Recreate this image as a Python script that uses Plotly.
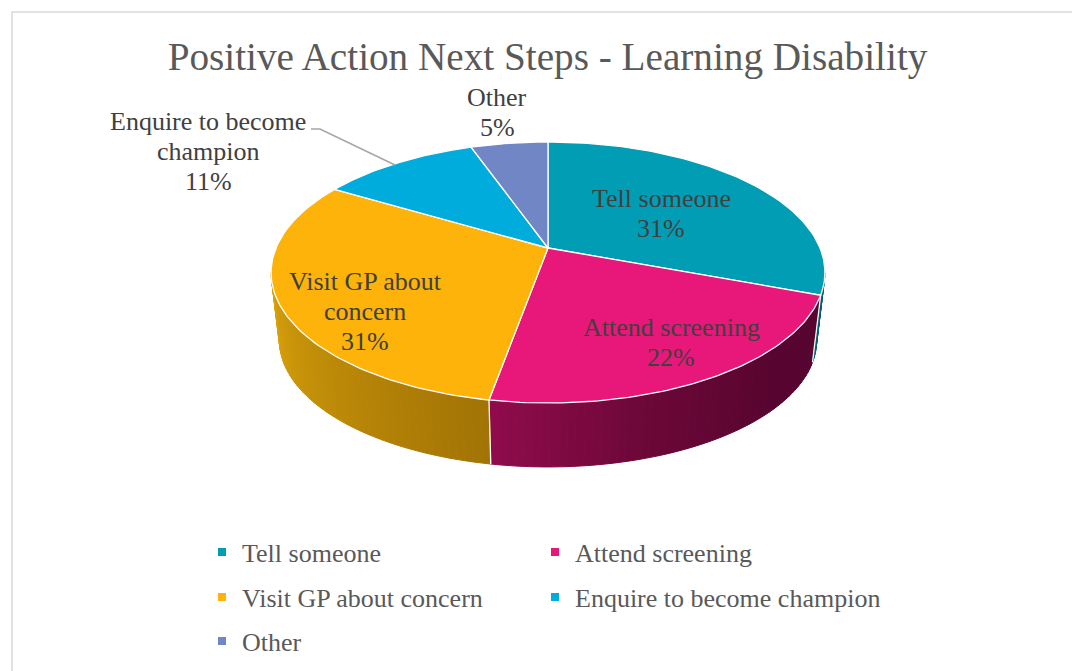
import numpy as np
import plotly.graph_objects as go

# ---- data ----
categories = ["Tell someone", "Attend screening", "Visit GP about concern", "Enquire to become champion", "Other"]
values = [30.7, 22.13, 30.7, 11.07, 5.4]

# ---- styles ----
TITLE = "Positive Action Next Steps - Learning Disability"
colors = ["#009DB5", "#E8177A", "#FDB309", "#00ACDB", "#7186C4"]
wall_stops = {
    0: [(0.0, "#00606F"), (1.0, "#00606F")],
    1: [(0.0, "#560530"), (0.3, "#580530"), (0.65, "#6C0838"), (1.0, "#900C4C")],
    2: [(0.0, "#A27405"), (0.5, "#BE8B08"), (1.0, "#DAA20B")],
}
FONT = "Liberation Serif"
W, H = 1072, 671
CX, CY, A, B, K = 548.0, 248.0, 272.0, 125.9, 0.1877
S_BOTTOM, DY_BOTTOM = 0.97, 68.6
LINE_STEP = 30


def project(theta_deg, scale=1.0, dy=0.0):
    t = np.radians(theta_deg)
    u, v = np.sin(t), np.cos(t)
    d = 1 + K * v
    return CX + scale * A * u / d, CY + dy - scale * B * v / d


def hex_rgb(h):
    return np.array([int(h[i:i + 2], 16) for i in (1, 3, 5)], dtype=float)


def stop_color(stops, f):
    ps = [p for p, _ in stops]
    rgb = np.array([hex_rgb(c) for _, c in stops])
    return "rgb(%d,%d,%d)" % tuple(np.interp(f, ps, rgb[:, i]) for i in range(3))


total = sum(values)
edges = np.concatenate([[0], np.cumsum(values)]) / total * 360
vis_lo = np.degrees(np.arccos(-K))
vis_hi = 360 - vis_lo

fig = go.Figure()

# side walls, as thin strips so the shading can vary
for i in range(len(values)):
    lo, hi = max(edges[i], vis_lo), min(edges[i + 1], vis_hi)
    if lo >= hi:
        continue
    n = max(2, int((hi - lo) / 1.5))
    steps = np.linspace(lo, hi, n + 1)
    for a, b in zip(steps[:-1], steps[1:]):
        th = np.linspace(a, b, 4)
        x1, y1 = project(th)
        x2, y2 = project(th[::-1], S_BOTTOM, DY_BOTTOM)
        c = stop_color(wall_stops[i], (0.5 * (a + b) - lo) / (hi - lo))
        fig.add_trace(go.Scatter(x=np.r_[x1, x2, x1[0]], y=np.r_[y1, y2, y1[0]], mode="lines",
                                 fill="toself", fillcolor=c, line=dict(color=c, width=1),
                                 hoverinfo="skip", showlegend=False))

# seams between walls
for e in edges[1:-1]:
    if vis_lo < e < vis_hi:
        x1, y1 = project(np.array([e]))
        x2, y2 = project(np.array([e]), S_BOTTOM, DY_BOTTOM)
        fig.add_trace(go.Scatter(x=np.r_[x1, x2], y=np.r_[y1, y2], mode="lines",
                                 line=dict(color="white", width=1.3), hoverinfo="skip", showlegend=False))

# top face
for i, (cat, col) in enumerate(zip(categories, colors)):
    th = np.linspace(edges[i], edges[i + 1], 90)
    x, y = project(th)
    fig.add_trace(go.Scatter(x=np.r_[CX, x, CX], y=np.r_[CY, y, CY], mode="lines", fill="toself",
                             fillcolor=col, line=dict(color="white", width=1.3),
                             name=cat, hoverinfo="name", showlegend=False))

# legend entries: one small legend per entry, placed in a 2-column grid
legend_col_x = [202, 535, 202, 535, 202]
legend_row_y = [552, 552, 597, 597, 641]
legend_base = dict(orientation="v", xanchor="left", yanchor="middle", bgcolor="rgba(0,0,0,0)",
                   font=dict(family=FONT, size=26, color="#595959"))
legend_layout = {}
for i, (cat, col, lx, ly) in enumerate(zip(categories, colors, legend_col_x, legend_row_y)):
    key = "legend" if i == 0 else f"legend{i + 1}"
    fig.add_trace(go.Scatter(x=[None], y=[None], mode="markers", name=cat, showlegend=True,
                             marker=dict(symbol="square", size=8, color=col), legend=key))
    legend_layout[key] = dict(legend_base, x=lx / W, y=1 - ly / H)

# data labels: first-line centre of each label
label_pos = [(661, 198), (671, 327), (365, 281), (208, 121), (497, 97)]
label_lines = [["Tell someone"], ["Attend screening"], ["Visit GP about", "concern"],
               ["Enquire to become", "champion"], ["Other"]]
annotations = []
for v, (lx, ly), lines in zip(values, label_pos, label_lines):
    pct = f"{round(v / total * 100)}%"
    for j, line in enumerate(lines + [pct]):
        annotations.append(dict(x=lx, y=ly + j * LINE_STEP, xref="x", yref="y", text=line,
                                showarrow=False, xanchor="center", yanchor="middle", align="center",
                                font=dict(family=FONT, size=26, color="#404040")))

# leader line for the champion label
lead_x = [311, 320, 395]
lead_y = [129, 129, 165]
fig.add_trace(go.Scatter(x=lead_x, y=lead_y, mode="lines", line=dict(color="#A6A6A6", width=1.6),
                         hoverinfo="skip", showlegend=False))

fig.update_layout(
    width=W, height=H, autosize=False,
    margin=dict(l=0, r=0, t=0, b=0),
    paper_bgcolor="white", plot_bgcolor="white",
    xaxis=dict(range=[0, W], visible=False, fixedrange=True),
    yaxis=dict(range=[H, 0], visible=False, fixedrange=True),
    title=dict(text=TITLE, x=547.5 / W, xanchor="center", y=1 - 56 / H, yanchor="middle",
               font=dict(family=FONT, size=39.2, color="#595959")),
    annotations=annotations,
    shapes=[dict(type="rect", xref="x", yref="y", x0=12, y0=12, x1=W + 20, y1=H + 20,
                 line=dict(color="#D9D9D9", width=1.5), layer="below")],
    **legend_layout,
)

fig.write_html("out.html", config={"displayModeBar": False},
               post_script="document.body.style.margin='0';document.body.style.overflow='hidden';")
